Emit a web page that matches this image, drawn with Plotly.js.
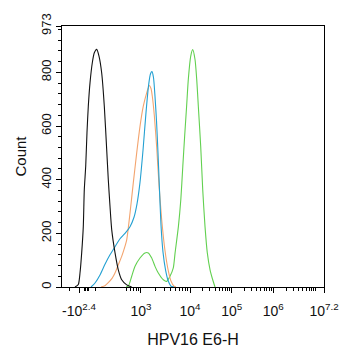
<!DOCTYPE html>
<html>
<head>
<meta charset="utf-8">
<script src="https://cdn.plot.ly/plotly-3.0.1.min.js"></script>
<style>html,body{margin:0;padding:0;background:#fff;}#chart{width:342px;height:350px;}</style>
</head>
<body>
<div id="chart"></div>
<script>
// x values are display channels (0-1000) of the biexponential HPV16 E6-H axis
const blackX = [49.6, 62.2, 68.7, 75.2, 81.3, 85.1, 90.5, 95.4, 100.4, 106.9, 115.7, 123.3, 132.4, 141.2, 151.5, 161.5, 170.6, 176.7, 183.2, 189.7, 202.3, 214.9, 227.9, 247, 266];
const blackY = [0, 9, 52, 128, 226, 363, 450, 576, 674, 761, 836, 873, 886, 861, 798, 674, 512, 400, 301, 214, 128, 64, 27, 8, 0];

const orangeX = [148.9, 164.1, 175.6, 190.9, 202.3, 213.8, 227.9, 236.7, 247, 259.6, 272.1, 285.1, 297.7, 310.3, 323.3, 333.2, 339.7, 344.7, 352.3, 361.5, 370.3, 380.6, 393.2, 405.8, 416.1, 427.5, 435];
const orangeY = [0, 5, 15, 32, 52, 80, 114, 140, 176, 276, 388, 500, 599, 674, 724, 751, 740, 711, 640, 520, 380, 250, 135, 60, 22, 3, 0];

const blueX = [110.7, 126, 145, 164.1, 183.2, 202.3, 221.4, 240.5, 259.6, 274.8, 286.3, 297.7, 309.2, 320.6, 330.2, 337.8, 343.5, 349.3, 355, 360.7, 366.4, 372.2, 377.9, 385.5, 395, 404.6, 416.1, 427.5];
const blueY = [0, 15, 45, 85, 120, 150, 180, 200, 225, 260, 310, 390, 510, 650, 750, 795, 803, 780, 710, 620, 500, 360, 230, 130, 65, 25, 3, 0];

const greenX = [244.3, 253.1, 266, 278.7, 297.7, 316.8, 329.4, 342.4, 355, 367.6, 386.7, 399.6, 412.2, 424.8, 431.6, 444.3, 453.5, 461.1, 468, 475.6, 482.1, 491.2, 498.9, 507.7, 514.2, 520.3, 529.4, 537.1, 545.8, 554.6, 564.9, 575.2, 584];
const greenY = [0, 3, 40, 77, 108, 127, 127, 108, 77, 52, 27, 21, 40, 71, 127, 226, 326, 450, 560, 674, 774, 860, 885, 848, 774, 674, 525, 363, 226, 127, 65, 27, 0];

const xTickVals = [64.9, 301.5, 488.6, 647.7, 806.5, 1000];
const xTickText = ['-10<sup>2.4</sup>', '10<sup>3</sup>', '10<sup>4</sup>', '10<sup>5</sup>', '10<sup>6</sup>', '10<sup>7.2</sup>'];
const yTickVals = [0, 200, 400, 600, 800, 973];
const yTickText = ['0', '200', '400', '600', '800', '973'];

// minor ticks of the biexponential axis (decade positions in channels)
const decadePos = {2: 114.4, 3: 301.5, 4: 488.6, 5: 647.7, 6: 806.5, 7: 967.75};
const xMinor = [30, 84, 90, 96, 102, 126];
for (let k = 2; k <= 6; k++) {
  for (let m = (k === 2 ? 5 : 2); m <= 9; m++) {
    xMinor.push(decadePos[k] + Math.log10(m) * (decadePos[k + 1] - decadePos[k]));
  }
}
xMinor.push(decadePos[7]);

const font = 'Arial, "Liberation Sans", sans-serif';
const mk = (x, y, c) => ({x: x, y: y, type: 'scatter', mode: 'lines', line: {color: c, width: 1.1, shape: 'spline', smoothing: 0.6}, hoverinfo: 'skip', showlegend: false});

const data = [
  mk(greenX, greenY, '#62d050'),
  mk(orangeX, orangeY, '#f3a46e'),
  mk(blueX, blueY, '#23a0d2'),
  mk(blackX, blackY, '#111111')
];

const layout = {
  width: 342, height: 350,
  margin: {l: 62, r: 18, t: 26, b: 63},
  paper_bgcolor: '#ffffff', plot_bgcolor: '#ffffff',
  font: {family: font, color: '#111', size: 13},
  showlegend: false,
  xaxis: {
    range: [0, 1000], showgrid: false, zeroline: false,
    showline: true, linecolor: '#000', linewidth: 1, mirror: true,
    tickmode: 'array', tickvals: xTickVals, ticktext: xTickText,
    ticks: 'outside', ticklen: 5, tickcolor: '#000', tickwidth: 1,
    ticklabelstandoff: 6,
    tickfont: {family: font, size: 14, color: '#111'},
    minor: {tickmode: 'array', tickvals: xMinor, ticks: 'outside', ticklen: 3, tickcolor: '#000', tickwidth: 1, showgrid: false},
    title: {text: 'HPV16 E6-H', font: {family: font, size: 16, color: '#111'}, standoff: 16},
    automargin: false
  },
  yaxis: {
    range: [0, 973], showgrid: false, zeroline: false,
    showline: true, linecolor: '#000', linewidth: 1, mirror: true,
    tickmode: 'array', tickvals: yTickVals, ticktext: yTickText,
    ticks: 'outside', ticklen: 5, tickcolor: '#000', tickwidth: 1,
    tickangle: -90,
    tickfont: {family: font, size: 13, color: '#111'},
    minor: {tick0: 0, dtick: 40, ticks: 'outside', ticklen: 3, tickcolor: '#000', tickwidth: 1, showgrid: false},
    title: {text: 'Count', font: {family: font, size: 15, color: '#111'}, standoff: 8},
    automargin: false
  }
};

Plotly.newPlot('chart', data, layout, {displayModeBar: false, staticPlot: true});
</script>
</body>
</html>
